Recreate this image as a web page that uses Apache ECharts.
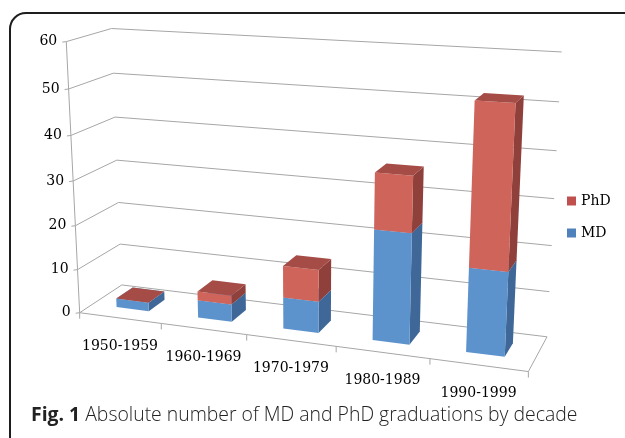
<!DOCTYPE html>
<html>
<head>
<meta charset="utf-8">
<script src="https://cdn.jsdelivr.net/npm/echarts@6/dist/echarts.min.js"></script>
<style>
  html, body { margin: 0; padding: 0; background: #fff; }
  #chart { width: 625px; height: 438px; }
</style>
</head>
<body>
<div id="chart"></div>
<script>
const decades = ['1950-1959', '1960-1969', '1970-1979', '1980-1989', '1990-1999'];
const md = [2, 4, 7, 24, 18];
const phd = [0, 2, 7, 12, 34];
const yTicks = [0, 10, 20, 30, 40, 50, 60];
const Y_MAX = 60;

// where the box corners sit on screen, used to fit the 3d perspective
// world units: x = categories (0..5), y = value (0..60), z = depth (0 front .. 1 back)
const frame = [
    [0, 0, 0, 80.5, 312], [0, 60, 0, 66, 42], [0, 0, 1, 121, 285], [0, 60, 1, 112, 29],
    [5, 0, 1, 547, 337], [5, 60, 1, 562, 52], [5, 0, 0, 528, 371],
    [1, 0, 0, 162, 324], [2, 0, 0, 247, 335], [3, 0, 0, 336, 347], [4, 0, 0, 430, 359],
    [0, 30, 0, 72, 180], [0, 30, 1, 117, 160], [5, 30, 1, 554, 198]
];

const BAR_W = 0.4;          // share of category width
const DEPTH = [0.3, 0.7];   // bar front / back
const FONT = 'DejaVu Serif';
const GRID_COLOR = '#a6a6a6';
const colors = {
    MD:  { front: '#5d93cd', side: '#3f6898', top: '#73a3d8', legend: '#4f81bd' },
    PhD: { front: '#cf645b', side: '#8f403b', top: '#a64c46', legend: '#c0504d' }
};

// least squares DLT, fixes p12 = 1
function fitCamera(pts) {
    const rows = [], rhs = [];
    pts.forEach(([X, Y, Z, u, v]) => {
        Y = Y / 12; u = u / 100; v = v / 100;
        rows.push([X, Y, Z, 1, 0, 0, 0, 0, -u * X, -u * Y, -u * Z]); rhs.push(u);
        rows.push([0, 0, 0, 0, X, Y, Z, 1, -v * X, -v * Y, -v * Z]); rhs.push(v);
    });
    const n = 11;
    const M = [];
    for (let i = 0; i < n; i++) M.push(new Array(n + 1).fill(0));
    rows.forEach((r, k) => {
        for (let i = 0; i < n; i++) {
            for (let j = 0; j < n; j++) M[i][j] += r[i] * r[j];
            M[i][n] += r[i] * rhs[k];
        }
    });
    for (let c = 0; c < n; c++) {
        let p = c;
        for (let r = c + 1; r < n; r++) if (Math.abs(M[r][c]) > Math.abs(M[p][c])) p = r;
        [M[c], M[p]] = [M[p], M[c]];
        for (let r = 0; r < n; r++) {
            if (r === c) continue;
            const f = M[r][c] / M[c][c];
            for (let k = c; k <= n; k++) M[r][k] -= f * M[c][k];
        }
    }
    return M.map((row, i) => row[n] / row[i]);
}
const P = fitCamera(frame);

function proj(x, y, z) {
    y = y / 12;
    const w = P[8] * x + P[9] * y + P[10] * z + 1;
    return [100 * (P[0] * x + P[1] * y + P[2] * z + P[3]) / w,
            100 * (P[4] * x + P[5] * y + P[6] * z + P[7]) / w];
}

// the hidden grid fills the chart, pixel coords from the axes are turned back into world units
const W = 625, H = 438;
function toWorld(pt) {
    return [pt[0] / W * decades.length, (H - pt[1]) / H * Y_MAX];
}

function poly(points, fill) {
    return { type: 'polygon', shape: { points: points }, style: { fill: fill, stroke: null } };
}
function line(points) {
    return { type: 'polyline', shape: { points: points }, style: { stroke: GRID_COLOR, lineWidth: 1, fill: null } };
}

function barRenderer(c) {
    return function (params, api) {
        const i = api.value(0);
        const lo = toWorld(api.coord([i, api.value(1)]));
        const hi = toWorld(api.coord([i, api.value(2)]));
        const half = api.size([1, 0])[0] / W * decades.length * BAR_W / 2;
        const x0 = lo[0] - half, x1 = lo[0] + half;
        const y0 = lo[1], y1 = hi[1];
        const z0 = DEPTH[0], z1 = DEPTH[1];
        return {
            type: 'group',
            children: [
                poly([proj(x1, y0, z0), proj(x1, y0, z1), proj(x1, y1, z1), proj(x1, y1, z0)], c.side),
                poly([proj(x0, y0, z0), proj(x1, y0, z0), proj(x1, y1, z0), proj(x0, y1, z0)], c.front),
                poly([proj(x0, y1, z0), proj(x1, y1, z0), proj(x1, y1, z1), proj(x0, y1, z1)], c.top)
            ]
        };
    };
}

function gridRenderer(params, api) {
    const tick = api.value(1);
    const v = toWorld(api.coord([0, tick]))[1];
    const n = decades.length;
    const a = proj(0, v, 0);
    const children = [
        line([a, proj(0, v, 1), proj(n, v, 1)]),
        line([[a[0] - 4, a[1] + 0.5], a]),
        { type: 'text', x: a[0] - 9, y: a[1],
          style: { text: String(tick), fontFamily: FONT, fontSize: 14, fill: '#000',
                   align: 'right', verticalAlign: 'middle' } }
    ];
    if (params.dataIndex < yTicks.length - 1) {
        const next = toWorld(api.coord([0, yTicks[params.dataIndex + 1]]))[1];
        children.push(line([a, proj(0, next, 0)]));
    }
    return { type: 'group', children: children };
}

function categoryRenderer(params, api) {
    const i = params.dataIndex;
    const n = decades.length;
    const c = toWorld(api.coord([i, 0]))[0];
    const half = api.size([1, 0])[0] / W * n / 2;
    const a = proj(c - half, 0, 0), b = proj(c + half, 0, 0), m = proj(c, 0, 0);
    const children = [
        line([a, b]),
        line([b, [b[0], b[1] + 6]]),
        { type: 'text', x: m[0], y: m[1] + 28,
          style: { text: decades[i], fontFamily: FONT, fontSize: 14, fill: '#000',
                   align: 'center', verticalAlign: 'middle' } }
    ];
    if (i === 0) children.push(line([a, [a[0], a[1] + 6]]));
    if (i === n - 1) children.push(line([b, proj(n, 0, 1)]));
    return { type: 'group', children: children };
}

const chart = echarts.init(document.getElementById('chart'));
chart.setOption({
    animation: false,
    grid: { left: 0, right: 0, top: 0, bottom: 0 },
    xAxis: { type: 'category', data: decades, show: false },
    yAxis: { type: 'value', min: 0, max: Y_MAX, show: false },
    title: {
        text: '{b|Fig. 1} Absolute number of MD and PhD graduations by decade',
        left: 26, top: 401,
        textStyle: {
            fontFamily: 'Open Sans', fontSize: 19.4, fontWeight: 300, color: '#222',
            rich: { b: { fontFamily: 'Open Sans', fontSize: 19.4, fontWeight: 'bold', color: '#222' } }
        }
    },
    legend: {
        data: ['PhD', 'MD'], orient: 'vertical', left: 567, top: 194, padding: 0,
        itemWidth: 9, itemHeight: 9, itemGap: 18, icon: 'rect',
        textStyle: { fontFamily: FONT, fontSize: 14, color: '#000' }
    },
    graphic: [{
        type: 'rect', z: -10, silent: true,
        shape: { x: 10, y: 13, width: 720, height: 520, r: 16 },
        style: { fill: 'none', stroke: '#1e1e1e', lineWidth: 2 }
    }],
    series: [
        { type: 'custom', name: 'grid', silent: true, renderItem: gridRenderer,
          data: yTicks.map(v => [0, v]), encode: { x: 0, y: 1 } },
        { type: 'custom', name: 'categories', silent: true, renderItem: categoryRenderer,
          data: decades.map((d, i) => [i, 0]), encode: { x: 0, y: 1 } },
        { type: 'custom', name: 'MD', renderItem: barRenderer(colors.MD),
          itemStyle: { color: colors.MD.legend },
          data: md.map((v, i) => [i, 0, v]), encode: { x: 0, y: [1, 2] } },
        { type: 'custom', name: 'PhD', renderItem: barRenderer(colors.PhD),
          itemStyle: { color: colors.PhD.legend },
          data: phd.map((v, i) => [i, md[i], md[i] + v]), encode: { x: 0, y: [1, 2] } }
    ]
});
</script>
</body>
</html>
